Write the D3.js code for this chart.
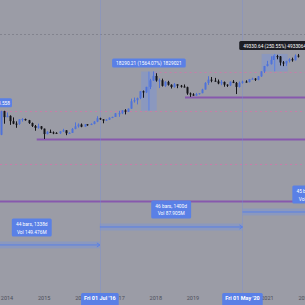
<!DOCTYPE html>
<html>
<head>
<meta charset="utf-8">
<script src="https://cdn.jsdelivr.net/npm/d3@7"></script>
<style>
  body { margin: 0; background: #9b9ca6; overflow: hidden; }
  svg { display: block; font-family: Roboto, "DejaVu Sans", sans-serif; }
</style>
</head>
<body>
<div id="chart"></div>
<script>
var W = 305, H = 305;

// monthly candles, Nov 2013 .. Nov 2021
var months = ["2013-11","2013-12",
  "2014-01","2014-02","2014-03","2014-04","2014-05","2014-06","2014-07","2014-08","2014-09","2014-10","2014-11","2014-12",
  "2015-01","2015-02","2015-03","2015-04","2015-05","2015-06","2015-07","2015-08","2015-09","2015-10","2015-11","2015-12",
  "2016-01","2016-02","2016-03","2016-04","2016-05","2016-06","2016-07","2016-08","2016-09","2016-10","2016-11","2016-12",
  "2017-01","2017-02","2017-03","2017-04","2017-05","2017-06","2017-07","2017-08","2017-09","2017-10","2017-11","2017-12",
  "2018-01","2018-02","2018-03","2018-04","2018-05","2018-06","2018-07","2018-08","2018-09","2018-10","2018-11","2018-12",
  "2019-01","2019-02","2019-03","2019-04","2019-05","2019-06","2019-07","2019-08","2019-09","2019-10","2019-11","2019-12",
  "2020-01","2020-02","2020-03","2020-04","2020-05","2020-06","2020-07","2020-08","2020-09","2020-10","2020-11","2020-12",
  "2021-01","2021-02","2021-03","2021-04","2021-05","2021-06","2021-07","2021-08","2021-09","2021-10","2021-11"];
var open = [206,1129,
  732,803,549,458,448,627,640,586,478,386,338,378,
  320,217,254,244,236,230,263,284,230,236,314,377,
  430,368,437,416,448,531,673,624,573,609,701,742,
  963,970,1190,1079,1348,2286,2480,2875,4703,4338,6468,10233,
  14156,10221,10397,6973,9240,7494,6404,7780,7037,6625,6317,4017,
  3742,3457,3854,4105,5350,8574,10817,10085,9631,8293,9199,7569,
  7193,9350,8599,6438,8658,9461,9138,11323,11680,10784,13781,19625,
  28990,33114,45137,58918,57750,37332,35040,41626,47166,43790,61318];
var high = [1163,1156,
  1022,834,718,541,635,680,660,601,496,416,457,384,
  320,266,299,261,247,267,316,285,246,334,502,467,
  464,443,440,467,550,781,703,627,633,720,755,975,
  1153,1210,1298,1364,2770,3000,2990,4760,4980,6470,11500,19666,
  17250,11800,11700,9760,9990,7770,8500,7780,7410,7680,6560,4310,
  4090,4200,4140,5640,9080,13880,13150,12330,10950,10530,9510,7750,
  9580,10520,9190,9460,10070,10380,11440,12480,12070,14100,19850,29300,
  41950,58350,61800,64850,59500,41330,42300,50500,52900,67000,69000];
var low = [200,456,
  730,420,440,340,420,530,570,450,360,275,318,300,
  152,211,235,215,228,218,253,200,225,236,306,344,
  354,365,394,412,436,510,600,470,568,603,681,740,
  750,912,890,1058,1330,2075,1830,2670,2950,4140,5500,10000,
  9400,5900,6600,6430,7080,5750,6070,5880,6120,6200,3650,3150,
  3400,3390,3700,4080,5330,7450,9000,9400,7800,7300,6530,6430,
  6850,8450,3850,6150,8120,8830,8900,10950,9880,10400,13200,17600,
  28130,32300,45000,47000,30000,28800,29300,37330,39600,43300,53260];
var close = [1129,732,
  803,549,458,448,627,640,586,478,386,338,378,320,
  217,254,244,236,230,263,284,230,236,314,377,430,
  368,437,416,448,531,673,624,573,609,701,742,963,
  970,1190,1079,1348,2286,2480,2875,4703,4338,6468,10233,14156,
  10221,10397,6973,9240,7494,6404,7780,7037,6625,6317,4017,3742,
  3457,3854,4105,5350,8574,10817,10085,9631,8293,9199,7569,7193,
  9350,8599,6438,8658,9461,9138,11323,11680,10784,13781,19625,28990,
  33114,45137,58918,57750,37332,35040,41626,47166,43790,61318,57005];

// horizontal levels
var levelPrice = [300000, 19500, 1150, 26, 3150, 152, 1.7];
var levelFrom  = [null, "2017-12-20", null, null, "2018-10-15", "2014-10-20", null];
var levelKind  = ["gray", "pink", "pink", "pink", "purple", "purple", "purple"];

// price range measurements
var prFrom  = ["2017-08-10", "2020-11-05"];
var prTo    = ["2018-01-10", "2021-07-20"];
var prLow   = [1169.4, 19688.6];
var prHigh  = [19459.6, 69019.2];
var prText  = ["18290.21 (1564.07%) 1829021", "49330.64 (250.55%) 4933064"];
var prDark  = [false, true];

// date range measurements
var drFrom  = ["2012-11-01", "2016-07-01", "2020-05-01"];
var drTo    = ["2016-07-01", "2020-05-01", "2024-02-01"];
var drLow   = [0.058, 0.21, 0.62];
var drHigh  = [0.095, 0.348, 1.02];
var drText1 = ["44 bars, 1338d", "46 bars, 1400d", "45 bars, 1371d"];
var drText2 = ["Vol 149.476M", "Vol 87.905M", "Vol 41.230M"];

// axis
var yearTicks = ["2014","2015","2016","2017","2018","2019","2020","2021","2022"];
var markDates = ["2016-07-01", "2020-05-01"];
var markText  = ["Fri 01 Jul '16", "Fri 01 May '20"];

var parse = d3.utcParse("%Y-%m-%d");
var parseM = d3.utcParse("%Y-%m");

var x = d3.scaleUtc()
    .domain([parse("2014-01-01"), parse("2022-01-01")])
    .range([7, 304.6]);
var y = d3.scaleLog()
    .domain([1, 100000])
    .range([208.8, 48.8]);

var col = {
  bg: "#9b9ca6", up: "#4f72d9", down: "#141418",
  gray: "#82838e", pink: "#c97ba8", purple: "#8758ad",
  tool: "#5a80e6", toolFill: "rgba(110,145,235,0.35)", dark: "#1c1d24",
  axis: "#4c4e5a"
};

var svg = d3.select("#chart").append("svg")
    .attr("width", W).attr("height", H);

svg.append("rect").attr("width", W).attr("height", H).attr("fill", col.bg);

// levels
levelPrice.forEach(function(p, i) {
  var k = levelKind[i];
  var x0 = levelFrom[i] ? x(parse(levelFrom[i])) : 0;
  svg.append("line")
    .attr("x1", x0).attr("x2", W)
    .attr("y1", Math.round(y(p)) + 0.5).attr("y2", Math.round(y(p)) + 0.5)
    .attr("stroke", col[k])
    .attr("stroke-width", k == "purple" ? 2 : 1)
    .attr("stroke-dasharray", k == "gray" ? "2,2" : (k == "pink" ? "2,3" : null));
});

// vertical markers
markDates.forEach(function(d) {
  var xx = Math.round(x(parse(d))) + 0.5;
  svg.append("line")
    .attr("x1", xx).attr("x2", xx).attr("y1", 0).attr("y2", H)
    .attr("stroke", "rgba(115,140,220,0.35)").attr("stroke-width", 1);
});

// price ranges
prLow.forEach(function(lo, i) {
  var x0 = x(parse(prFrom[i])), x1 = x(parse(prTo[i]));
  var yt = y(prHigh[i]), yb = y(lo);
  svg.append("rect")
    .attr("x", x0).attr("y", yt).attr("width", x1 - x0).attr("height", yb - yt)
    .attr("fill", col.toolFill);
  svg.append("line")
    .attr("x1", (x0 + x1) / 2).attr("x2", (x0 + x1) / 2)
    .attr("y1", yt).attr("y2", yb)
    .attr("stroke", col.tool).attr("stroke-width", 1);
});

// date ranges
drLow.forEach(function(lo, i) {
  var x0 = x(parse(drFrom[i])), x1 = x(parse(drTo[i]));
  var yt = y(drHigh[i]), yb = y(lo);
  svg.append("rect")
    .attr("x", x0).attr("y", yt).attr("width", x1 - x0).attr("height", yb - yt)
    .attr("fill", col.toolFill);
  var ym = (yt + yb) / 2;
  svg.append("line")
    .attr("x1", x0).attr("x2", x1).attr("y1", ym).attr("y2", ym)
    .attr("stroke", col.tool).attr("stroke-width", 1);
  svg.append("path")
    .attr("d", "M" + (x1 - 3) + "," + (ym - 2) + "L" + x1 + "," + ym + "L" + (x1 - 3) + "," + (ym + 2))
    .attr("fill", "none").attr("stroke", col.tool);
});

// candles
var bw = 2;
months.forEach(function(m, i) {
  var cx = Math.round(x(parseM(m)));
  var up = close[i] >= open[i];
  var c = up ? col.up : col.down;
  svg.append("line")
    .attr("x1", cx + 0.5).attr("x2", cx + 0.5)
    .attr("y1", y(high[i])).attr("y2", y(low[i]))
    .attr("stroke", c).attr("stroke-width", 1);
  var t = y(Math.max(open[i], close[i])), b = y(Math.min(open[i], close[i]));
  svg.append("rect")
    .attr("x", cx - 0.5).attr("y", t).attr("width", bw).attr("height", Math.max(1, b - t))
    .attr("fill", c);
});

// labels for price ranges
prText.forEach(function(s, i) {
  var cx = (x(parse(prFrom[i])) + x(parse(prTo[i]))) / 2;
  var yt = y(prHigh[i]);
  var g = svg.append("g");
  var t = g.append("text")
    .attr("x", cx).attr("y", yt - 6.3)
    .attr("text-anchor", "middle")
    .attr("font-size", 4.8).attr("fill", "#fff").text(s);
  var bb = t.node().getBBox();
  g.insert("rect", "text")
    .attr("x", bb.x - 4).attr("y", yt - 13).attr("width", bb.width + 8).attr("height", 9)
    .attr("rx", 1.5).attr("fill", prDark[i] ? col.dark : col.tool);
});

// labels for date ranges
drText1.forEach(function(s, i) {
  var cx = (x(parse(drFrom[i])) + x(parse(drTo[i]))) / 2;
  var yt = y(drHigh[i]);
  var g = svg.append("g");
  var t1 = g.append("text").attr("x", cx).attr("y", yt - 15.5)
    .attr("text-anchor", "middle").attr("font-size", 4.8).attr("fill", "#fff").text(s);
  var t2 = g.append("text").attr("x", cx).attr("y", yt - 8)
    .attr("text-anchor", "middle").attr("font-size", 4.8).attr("fill", "#fff").text(drText2[i]);
  var w = Math.max(t1.node().getBBox().width, t2.node().getBBox().width) + 8;
  g.insert("rect", "text")
    .attr("x", cx - w / 2).attr("y", yt - 23).attr("width", w).attr("height", 18)
    .attr("rx", 1.5).attr("fill", col.tool);
});

// label clipped at left edge
var lg = svg.append("g");
lg.append("rect").attr("x", -40).attr("y", y(3150) + 1.5).attr("width", 52).attr("height", 9)
  .attr("rx", 1.5).attr("fill", col.tool);
lg.append("text").attr("x", 10).attr("y", y(3150) + 7.8).attr("text-anchor", "end")
  .attr("font-size", 4.8).attr("fill", "#fff").text("1163.558");

// year labels
svg.selectAll(".yr").data(yearTicks).enter().append("text")
  .attr("class", "yr")
  .attr("x", function(d) { return x(parse(d + "-01-01")); })
  .attr("y", 300)
  .attr("text-anchor", "middle")
  .attr("font-size", 5.5)
  .attr("fill", col.axis)
  .text(function(d) { return d; });

// date markers on axis
markDates.forEach(function(d, i) {
  var cx = x(parse(d));
  var g = svg.append("g");
  var t = g.append("text").attr("x", cx).attr("y", 300.2)
    .attr("text-anchor", "middle").attr("font-size", 5.5).attr("font-weight", "bold")
    .attr("fill", "#fff").text(markText[i]);
  var w = t.node().getBBox().width + 6;
  g.insert("rect", "text")
    .attr("x", cx - w / 2).attr("y", 293).attr("width", w).attr("height", 13)
    .attr("rx", 1.5).attr("fill", col.tool);
});
</script>
</body>
</html>
